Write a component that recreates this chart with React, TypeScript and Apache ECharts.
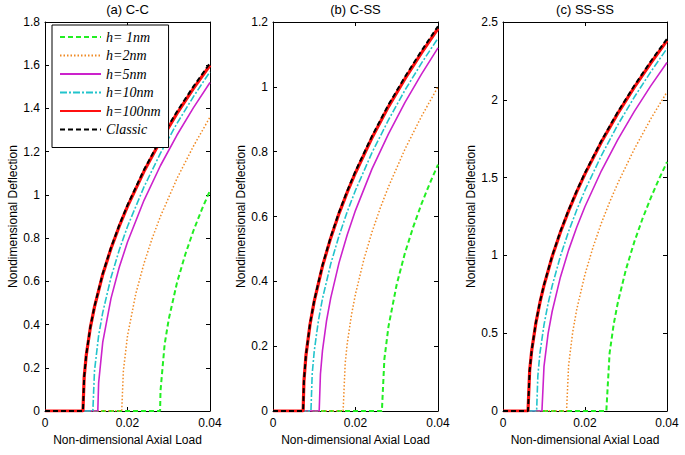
import React, { useEffect, useRef } from "react";
import * as echarts from "echarts";

type Pt = [number, number];

// Legend names
const NAMES = ["h= 1nm", "h=2nm", "h=5nm", "h=10nm", "h=100nm", "Classic"];
const TITLES = ["(a) C-C", "(b) C-SS", "(c) SS-SS"];
const Y_MAX = [1.8, 1.2, 2.5];
const Y_INTERVAL = [0.2, 0.2, 0.5];
const X_TICKS = [0, 0.02, 0.04];

// (a) C-C
const CC_H1: Pt[] = [[0, 0], [0.0279, 0], [0.028, 0.093], [0.029, 0.308], [0.03, 0.425], [0.032, 0.594], [0.034, 0.724], [0.036, 0.835], [0.038, 0.932], [0.04, 1.02]];
const CC_H2: Pt[] = [[0, 0], [0.0186, 0], [0.019, 0.186], [0.02, 0.348], [0.022, 0.542], [0.024, 0.683], [0.026, 0.8], [0.028, 0.901], [0.032, 1.076], [0.036, 1.226], [0.04, 1.36]];
const CC_H5: Pt[] = [[0, 0], [0.0128, 0], [0.013, 0.13], [0.014, 0.319], [0.016, 0.521], [0.018, 0.665], [0.02, 0.782], [0.024, 0.975], [0.028, 1.136], [0.032, 1.277], [0.036, 1.404], [0.04, 1.52]];
const CC_H10: Pt[] = [[0, 0], [0.0116, 0], [0.012, 0.186], [0.013, 0.349], [0.014, 0.456], [0.016, 0.618], [0.018, 0.745], [0.02, 0.854], [0.024, 1.037], [0.028, 1.193], [0.032, 1.331], [0.036, 1.455], [0.04, 1.57]];
const CC_H100: Pt[] = [[0, 0], [0.0092, 0], [0.0095, 0.158], [0.01, 0.258], [0.011, 0.387], [0.012, 0.482], [0.014, 0.632], [0.016, 0.752], [0.018, 0.855], [0.02, 0.947], [0.024, 1.109], [0.028, 1.25], [0.032, 1.377], [0.036, 1.493], [0.04, 1.6]];
const CC_CL: Pt[] = [[0, 0], [0.0092, 0], [0.0095, 0.159], [0.01, 0.26], [0.011, 0.389], [0.012, 0.485], [0.014, 0.636], [0.016, 0.756], [0.018, 0.86], [0.02, 0.953], [0.024, 1.116], [0.028, 1.258], [0.032, 1.386], [0.036, 1.502], [0.04, 1.61]];

// (b) C-SS
const CS_H1: Pt[] = [[0, 0], [0.0264, 0], [0.027, 0.16], [0.028, 0.261], [0.03, 0.391], [0.032, 0.488], [0.034, 0.568], [0.036, 0.639], [0.038, 0.702], [0.04, 0.76]];
const CS_H2: Pt[] = [[0, 0], [0.017, 0], [0.0175, 0.147], [0.018, 0.209], [0.019, 0.295], [0.02, 0.361], [0.022, 0.466], [0.024, 0.552], [0.026, 0.626], [0.028, 0.692], [0.032, 0.808], [0.036, 0.909], [0.04, 1.0]];
const CS_H5: Pt[] = [[0, 0], [0.0112, 0], [0.0115, 0.114], [0.012, 0.187], [0.013, 0.28], [0.014, 0.349], [0.016, 0.457], [0.018, 0.544], [0.02, 0.619], [0.024, 0.747], [0.028, 0.855], [0.032, 0.952], [0.036, 1.039], [0.04, 1.12]];
const CS_H10: Pt[] = [[0, 0], [0.0092, 0], [0.0095, 0.114], [0.01, 0.185], [0.011, 0.278], [0.012, 0.347], [0.014, 0.454], [0.016, 0.54], [0.018, 0.615], [0.02, 0.681], [0.024, 0.797], [0.028, 0.898], [0.032, 0.99], [0.036, 1.073], [0.04, 1.15]];
const CS_H100: Pt[] = [[0, 0], [0.0073, 0], [0.0075, 0.092], [0.008, 0.173], [0.009, 0.269], [0.01, 0.339], [0.012, 0.447], [0.014, 0.534], [0.016, 0.609], [0.018, 0.675], [0.02, 0.735], [0.024, 0.843], [0.028, 0.939], [0.032, 1.025], [0.036, 1.105], [0.04, 1.18]];
const CS_CL: Pt[] = [[0, 0], [0.0073, 0], [0.0075, 0.093], [0.008, 0.174], [0.009, 0.271], [0.01, 0.341], [0.012, 0.45], [0.014, 0.537], [0.016, 0.613], [0.018, 0.679], [0.02, 0.74], [0.024, 0.848], [0.028, 0.945], [0.032, 1.031], [0.036, 1.111], [0.04, 1.187]];

// (c) SS-SS
const SS_H1: Pt[] = [[0, 0], [0.0252, 0], [0.026, 0.372], [0.027, 0.558], [0.028, 0.696], [0.03, 0.911], [0.032, 1.085], [0.034, 1.234], [0.036, 1.367], [0.038, 1.488], [0.04, 1.6]];
const SS_H2: Pt[] = [[0, 0], [0.0155, 0], [0.016, 0.293], [0.017, 0.507], [0.018, 0.655], [0.02, 0.879], [0.022, 1.056], [0.024, 1.208], [0.026, 1.342], [0.028, 1.464], [0.032, 1.682], [0.036, 1.875], [0.04, 2.05]];
const SS_H5: Pt[] = [[0, 0], [0.0095, 0], [0.01, 0.287], [0.011, 0.497], [0.012, 0.641], [0.014, 0.86], [0.016, 1.034], [0.018, 1.183], [0.02, 1.314], [0.024, 1.544], [0.028, 1.744], [0.032, 1.924], [0.036, 2.088], [0.04, 2.24]];
const SS_H10: Pt[] = [[0, 0], [0.0082, 0], [0.0085, 0.226], [0.009, 0.37], [0.01, 0.554], [0.011, 0.691], [0.012, 0.805], [0.014, 0.995], [0.016, 1.154], [0.018, 1.293], [0.02, 1.419], [0.024, 1.642], [0.028, 1.839], [0.032, 2.016], [0.036, 2.178], [0.04, 2.33]];
const SS_H100: Pt[] = [[0, 0], [0.0061, 0], [0.0065, 0.259], [0.007, 0.388], [0.008, 0.563], [0.009, 0.696], [0.01, 0.807], [0.012, 0.993], [0.014, 1.149], [0.016, 1.286], [0.018, 1.41], [0.02, 1.524], [0.024, 1.729], [0.028, 1.913], [0.032, 2.08], [0.036, 2.235], [0.04, 2.38]];
const SS_CL: Pt[] = [[0, 0], [0.0061, 0], [0.0065, 0.261], [0.007, 0.39], [0.008, 0.566], [0.009, 0.7], [0.01, 0.811], [0.012, 0.998], [0.014, 1.155], [0.016, 1.292], [0.018, 1.417], [0.02, 1.531], [0.024, 1.737], [0.028, 1.922], [0.032, 2.09], [0.036, 2.246], [0.04, 2.392]];

const PANELS: Pt[][][] = [
  [CC_H1, CC_H2, CC_H5, CC_H10, CC_H100, CC_CL],
  [CS_H1, CS_H2, CS_H5, CS_H10, CS_H100, CS_CL],
  [SS_H1, SS_H2, SS_H5, SS_H10, SS_H100, SS_CL],
];

const STYLES = [
  { color: "#22ee22", width: 2, type: [5, 3] as any },
  { color: "#f08a24", width: 1.5, type: [1.5, 2] as any },
  { color: "#cc22cc", width: 1.6, type: "solid" as any },
  { color: "#22c4cc", width: 1.6, type: [7, 2, 2, 2] as any },
  { color: "#ff1010", width: 3.2, type: "solid" as any },
  { color: "#000000", width: 2, type: [5, 3] as any },
];

const GRIDS = [
  { left: 45, top: 22, width: 165, height: 389 },
  { left: 273, top: 22, width: 165, height: 389 },
  { left: 503, top: 22, width: 164, height: 389 },
];

const SANS = "Liberation Sans, Arial, sans-serif";

export default function App() {
  const ref = useRef<HTMLDivElement>(null);
  useEffect(() => {
    if (!ref.current) return;
    const chart = echarts.init(ref.current, undefined, { renderer: "svg" });
    const xAxes: any[] = [];
    const yAxes: any[] = [];
    const series: any[] = [];
    const graphics: any[] = [];
    GRIDS.forEach((g, i) => {
      const common = {
        gridIndex: i,
        axisLine: { show: true, onZero: false, lineStyle: { color: "#000", width: 1 } },
        axisTick: { show: true, inside: true, length: 4, lineStyle: { color: "#000" } },
        splitLine: { show: false },
      };
      xAxes.push({
        ...common,
        type: "value",
        position: "bottom",
        min: X_TICKS[0],
        max: X_TICKS[X_TICKS.length - 1],
        interval: 0.02,
        name: "Non-dimensional Axial Load",
        nameLocation: "middle",
        nameGap: 23,
        nameTextStyle: { fontFamily: SANS, fontSize: 12, color: "#000" },
        axisLabel: { fontFamily: SANS, fontSize: 12, color: "#000", margin: 6 },
      });
      xAxes.push({
        ...common,
        type: "value",
        position: "top",
        min: X_TICKS[0],
        max: X_TICKS[X_TICKS.length - 1],
        interval: 0.02,
        axisLabel: { show: false },
      });
      yAxes.push({
        ...common,
        type: "value",
        position: "left",
        min: 0,
        max: Y_MAX[i],
        interval: Y_INTERVAL[i],
        name: "Nondimensional Deflection",
        nameLocation: "middle",
        nameGap: 26,
        nameTextStyle: { fontFamily: SANS, fontSize: 12, color: "#000" },
        axisLabel: { fontFamily: SANS, fontSize: 12, color: "#000", margin: 5 },
      });
      yAxes.push({
        ...common,
        type: "value",
        position: "right",
        min: 0,
        max: Y_MAX[i],
        interval: Y_INTERVAL[i],
        axisLabel: { show: false },
      });
      PANELS[i].forEach((data, k) => {
        const s = STYLES[k];
        series.push({
          type: "line",
          name: NAMES[k],
          xAxisIndex: 2 * i,
          yAxisIndex: 2 * i,
          data,
          symbol: "none",
          smooth: false,
          lineStyle: { color: s.color, width: s.width, type: s.type },
          itemStyle: { color: s.color },
          z: 2 + k,
        });
      });
      graphics.push({
        type: "text",
        x: g.left + g.width / 2,
        y: 9,
        style: {
          text: TITLES[i],
          fontFamily: SANS,
          fontSize: 13,
          fill: "#000",
          textAlign: "center",
          textVerticalAlign: "middle",
        },
      });
    });

    chart.setOption({
      animation: false,
      backgroundColor: "#fff",
      grid: GRIDS.map((g) => ({ ...g, containLabel: false })),
      xAxis: xAxes,
      yAxis: yAxes,
      series,
      graphic: graphics,
      legend: {
        data: NAMES,
        orient: "vertical",
        left: 52,
        top: 25,
        width: 112,
        itemWidth: 41,
        itemHeight: 12,
        itemGap: 4.5,
        padding: [5, 8, 11, 7],
        backgroundColor: "#fff",
        borderColor: "#000",
        borderWidth: 1,
        borderRadius: 0,
        selectedMode: false,
        itemStyle: { opacity: 0 },
        textStyle: {
          fontFamily: "Liberation Serif, Times New Roman, serif",
          fontStyle: "italic",
          fontSize: 14,
          color: "#000",
          padding: [0, 0, 0, 0],
        },
        z: 10,
      },
    });
    return () => chart.dispose();
  }, []);
  return (
    <div
      ref={ref}
      style={{ position: "fixed", left: 0, top: 0, width: 685, height: 455, background: "#fff" }}
    />
  );
}
